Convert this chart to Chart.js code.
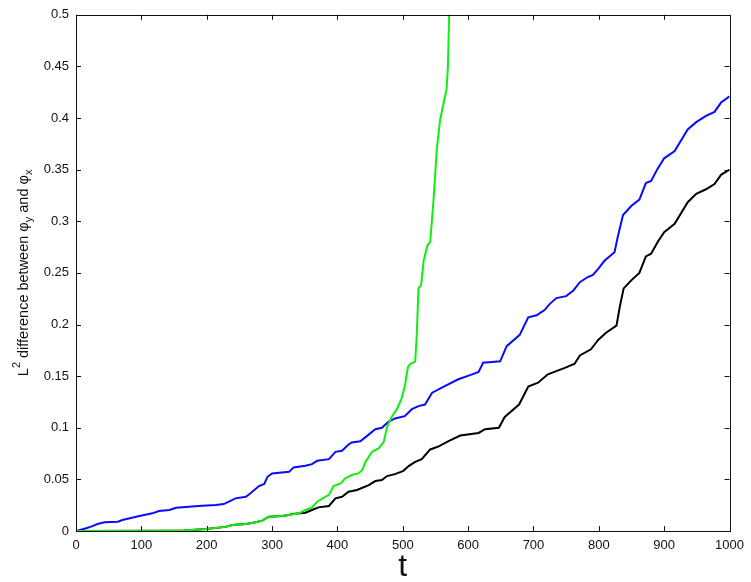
<!DOCTYPE html>
<html>
<head>
<meta charset="utf-8">
<script src="https://cdn.jsdelivr.net/npm/chart.js@4/dist/chart.umd.min.js"></script>
<style>
  html, body { margin: 0; padding: 0; background: #fff; }
  #wrap { width: 751px; height: 582px; }
</style>
</head>
<body>
<div id="wrap"><canvas id="diffChart"></canvas></div>
<script>
// L2 difference between phi_y and phi_x over time

// ─── Data ────────────────────────────────────────────────────────────────────
const greenT = [0, 100, 165, 199, 229, 239, 260, 275, 285, 295, 315, 326, 341, 351, 361, 369, 382, 387, 394, 405,
  412, 422, 432, 438, 443, 453, 463, 471, 476, 483, 491, 498, 503, 508, 512, 519, 521.5, 524, 528, 532,
  538, 542, 547, 552, 557, 565, 567, 569, 571, 574];
const greenV = [0, 0.0001, 0.0004, 0.002, 0.004, 0.0058, 0.0068, 0.0084, 0.010, 0.0139, 0.0145, 0.0155, 0.0171, 0.0203, 0.0225, 0.0284, 0.0332, 0.0348, 0.0435, 0.0461,
  0.051, 0.0542, 0.0558, 0.059, 0.067, 0.0767, 0.080, 0.0864, 0.1009, 0.1105, 0.118, 0.128, 0.140, 0.159, 0.162, 0.164, 0.191, 0.235, 0.238, 0.262,
  0.277, 0.280, 0.320, 0.369, 0.398, 0.422, 0.428, 0.449, 0.500, 0.560];

const blueT = [0, 15.6, 23, 33, 43.5, 64, 71, 97, 117, 127, 143, 153, 173, 193, 214, 226, 234, 244, 260, 267,
  280, 288, 293, 300, 326, 333, 351, 361, 369, 387, 397, 407, 417, 422, 435, 445, 458, 468, 478, 488,
  503, 514, 524, 534, 545, 565, 585, 603, 616, 623, 649, 659, 679, 692, 705, 712, 717, 725, 735, 750,
  761, 771, 783, 791, 799, 809, 824, 829, 837, 850, 862, 872, 880, 890, 900, 916, 936, 949, 964, 977, 987, 1000];
const blueV = [0, 0.0026, 0.0042, 0.0068, 0.0084, 0.009, 0.0106, 0.0145, 0.0171, 0.0193, 0.0203, 0.0225, 0.0235, 0.0245, 0.0251, 0.0261, 0.0284, 0.0316, 0.0332, 0.0365,
  0.0435, 0.0455, 0.0525, 0.0558, 0.0573, 0.0616, 0.0632, 0.0648, 0.068, 0.0696, 0.0767, 0.0777, 0.0838, 0.0858, 0.087, 0.0919, 0.0986, 0.100, 0.1057, 0.109,
  0.1112, 0.118, 0.121, 0.1225, 0.134, 0.1405, 0.147, 0.151, 0.154, 0.163, 0.1644, 0.179, 0.190, 0.207, 0.209, 0.212, 0.214, 0.220, 0.2256, 0.2275,
  0.233, 0.241, 0.246, 0.248, 0.254, 0.262, 0.270, 0.285, 0.306, 0.315, 0.321, 0.337, 0.339, 0.351, 0.361, 0.368, 0.389, 0.396, 0.402, 0.406, 0.415, 0.421];

const blackT = [0, 100, 165, 199, 229, 239, 260, 275, 285, 295, 315, 326, 331, 351, 361, 371, 387, 397, 407, 417,
  430, 448, 458, 468, 476, 488, 501, 509, 519, 529, 542, 555, 570, 588, 616, 626, 647, 656, 678, 692,
  707, 722, 748, 763, 771, 788, 799, 811, 827, 832, 838, 850, 862, 872, 880, 890, 900, 916, 936, 949, 964, 977, 987, 1000];
const blackV = [0, 0.0002, 0.0004, 0.002, 0.004, 0.0058, 0.0068, 0.0084, 0.010, 0.0139, 0.0145, 0.0155, 0.0164, 0.0177, 0.0203, 0.0229, 0.0242, 0.0316, 0.0332, 0.038,
  0.0397, 0.0445, 0.0484, 0.0493, 0.0532, 0.0551, 0.0583, 0.0629, 0.067, 0.0696, 0.079, 0.082, 0.087, 0.0925, 0.095, 0.0986, 0.100, 0.1105, 0.1225, 0.140,
  0.1436, 0.1518, 0.158, 0.162, 0.170, 0.176, 0.185, 0.192, 0.199, 0.217, 0.235, 0.243, 0.250, 0.266, 0.2686, 0.280, 0.2895, 0.2976, 0.3185, 0.3266, 0.331, 0.336, 0.345, 0.350];

const xMin = 0, xMax = 1000, xStep = 100;
const yMin = 0, yMax = 0.5, yStep = 0.05;

const FONT = "'Liberation Sans', Arial, Helvetica, sans-serif";

function toPoints(ts, vs) {
  return ts.map((t, i) => ({ x: t, y: vs[i] }));
}

// ─── Frame with inward ticks on all four sides ───────────────────────────────
const framePlugin = {
  id: 'frame',
  afterDatasetsDraw(chart) {
    const { ctx, chartArea: a, scales } = chart;
    const len = 5;
    ctx.save();
    ctx.strokeStyle = '#111';
    ctx.lineWidth = 1;
    ctx.beginPath();
    scales.x.ticks.forEach(t => {
      const px = Math.round(scales.x.getPixelForValue(t.value)) + 0.5;
      ctx.moveTo(px, a.bottom); ctx.lineTo(px, a.bottom - len);
      ctx.moveTo(px, a.top); ctx.lineTo(px, a.top + len);
    });
    scales.y.ticks.forEach(t => {
      const py = Math.round(scales.y.getPixelForValue(t.value)) + 0.5;
      ctx.moveTo(a.left, py); ctx.lineTo(a.left + len, py);
      ctx.moveTo(a.right, py); ctx.lineTo(a.right - len, py);
    });
    ctx.stroke();
    ctx.strokeRect(Math.round(a.left) + 0.5, Math.round(a.top) + 0.5,
      Math.round(a.right - a.left), Math.round(a.bottom - a.top));
    ctx.restore();
  },
};

// ─── Y-axis title with super/subscripts ──────────────────────────────────────
const yTitlePlugin = {
  id: 'yTitle',
  afterDraw(chart) {
    const { ctx, chartArea: a } = chart;
    const size = 14.5;
    const parts = [
      { s: 'L', k: 'n' }, { s: '2', k: 'sup' }, { s: ' difference between \u03c6', k: 'n' },
      { s: 'y', k: 'sub' }, { s: ' and \u03c6', k: 'n' }, { s: 'x', k: 'sub' },
    ];
    const fontOf = k => (k === 'n' ? size : 11) + 'px ' + FONT;
    ctx.save();
    let total = 0;
    parts.forEach(p => { ctx.font = fontOf(p.k); p.w = ctx.measureText(p.s).width; total += p.w; });
    ctx.translate(28, (a.top + a.bottom) / 2);
    ctx.rotate(-Math.PI / 2);
    ctx.fillStyle = '#111';
    ctx.textBaseline = 'alphabetic';
    let x = -total / 2;
    parts.forEach(p => {
      ctx.font = fontOf(p.k);
      const dy = p.k === 'sup' ? -8 : p.k === 'sub' ? 4 : 0;
      ctx.fillText(p.s, x, dy);
      x += p.w;
    });
    ctx.restore();
  },
};

new Chart(document.getElementById('diffChart'), {
  type: 'line',
  data: {
    datasets: [
      { data: toPoints(greenT, greenV), borderColor: '#11ee11', borderWidth: 2 },
      { data: toPoints(blueT, blueV), borderColor: '#0a0aff', borderWidth: 2 },
      { data: toPoints(blackT, blackV), borderColor: '#000000', borderWidth: 2 },
    ],
  },
  options: {
    responsive: true,
    maintainAspectRatio: false,
    animation: false,
    layout: { padding: { top: 14, right: 19, left: 0, bottom: 0 } },
    elements: { point: { radius: 0 }, line: { tension: 0 } },
    plugins: { legend: { display: false }, tooltip: { enabled: false } },
    scales: {
      x: {
        type: 'linear',
        min: xMin, max: xMax,
        afterFit: s => { s.height = 51; },
        ticks: { stepSize: xStep, padding: 7, color: '#111', font: { family: FONT, size: 13 },
          callback: v => String(v) },
        grid: { drawOnChartArea: false, drawTicks: false },
        border: { display: false },
        title: { display: true, text: 't', color: '#111', padding: { top: 0, bottom: 0 },
          font: { family: FONT, size: 32, lineHeight: 0.9 } },
      },
      y: {
        type: 'linear',
        min: yMin, max: yMax,
        afterFit: s => { s.width = 76; },
        ticks: { stepSize: yStep, padding: 7, color: '#111', font: { family: FONT, size: 13 },
          callback: v => String(+v.toFixed(2)) },
        grid: { drawOnChartArea: false, drawTicks: false },
        border: { display: false },
      },
    },
  },
  plugins: [framePlugin, yTitlePlugin],
});
</script>
</body>
</html>
